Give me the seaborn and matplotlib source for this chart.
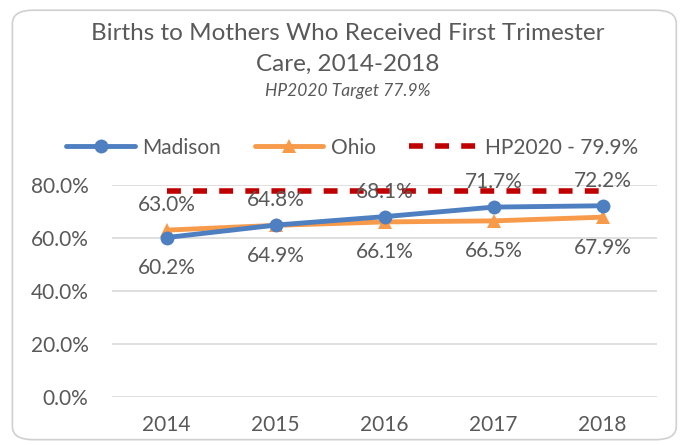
import seaborn as sns
import matplotlib.pyplot as plt
import pandas as pd
from matplotlib.patches import FancyBboxPatch
from matplotlib.lines import Line2D

years = ["2014", "2015", "2016", "2017", "2018"]
madison = [60.2, 64.9, 68.1, 71.7, 72.2]
ohio = [63.0, 64.8, 66.1, 66.5, 67.9]
hp2020 = [77.9, 77.9, 77.9, 77.9, 77.9]
madison_above = [False, False, True, True, True]
y_ticks = [0, 20, 40, 60, 80]

blue = "#4E7FC1"
orange = "#F79A4A"
red = "#C00000"
grey = "#595959"

sns.set_theme(style="white")
plt.rcParams["font.family"] = ["Lato", "DejaVu Sans"]

df = pd.DataFrame({"year": years, "Madison": madison, "Ohio": ohio, "HP2020": hp2020})

fig = plt.figure(figsize=(6.88, 4.45), dpi=100)
ax = fig.add_axes([0.163, 0.108, 0.792, 0.476])

sns.lineplot(data=df, x="year", y="HP2020", ax=ax, color=red, linewidth=4,
             linestyle=(0, (2.5, 2.2)), sort=False)
sns.lineplot(data=df, x="year", y="Ohio", ax=ax, color=orange, linewidth=3.5,
             marker="^", markersize=10, markeredgewidth=0, sort=False)
sns.lineplot(data=df, x="year", y="Madison", ax=ax, color=blue, linewidth=3.5,
             marker="o", markersize=10, markeredgewidth=0, sort=False)

# data labels
for i in range(len(years)):
    m_off = 18 if madison_above[i] else -22
    o_off = -22 if madison_above[i] else 18
    ax.annotate(f"{madison[i]:.1f}%", (i, madison[i]), xytext=(0, m_off),
                textcoords="offset points", ha="center", va="center",
                fontsize=15, color=grey, annotation_clip=False)
    ax.annotate(f"{ohio[i]:.1f}%", (i, ohio[i]), xytext=(0, o_off),
                textcoords="offset points", ha="center", va="center",
                fontsize=15, color=grey, annotation_clip=False)

ax.set_xlim(-0.5, 4.5)
ax.set_ylim(0, 80)
ax.set_yticks(y_ticks)
ax.set_yticklabels([f"{v:.1f}%" for v in y_ticks])
ax.yaxis.grid(True, color="#D9D9D9", linewidth=1.2)
ax.set_axisbelow(True)
for s in ax.spines.values():
    s.set_visible(False)
ax.tick_params(axis="both", labelsize=15, labelcolor=grey, length=0)
ax.tick_params(axis="x", pad=13)
ax.tick_params(axis="y", pad=17)
ax.set_xlabel("")
ax.set_ylabel("")

fig.text(0.505, 0.925, "Births to Mothers Who Received First Trimester",
         ha="center", va="center", fontsize=17.5, color=grey)
fig.text(0.505, 0.855, "Care, 2014-2018", ha="center", va="center",
         fontsize=17.5, color=grey)
fig.text(0.505, 0.795, "HP2020 Target 77.9%", ha="center", va="center",
         fontsize=12.5, color=grey, style="italic")

handles = [
    Line2D([], [], color=blue, linewidth=3.5, marker="o", markersize=10, markeredgewidth=0),
    Line2D([], [], color=orange, linewidth=3.5, marker="^", markersize=10, markeredgewidth=0),
    Line2D([], [], color=red, linewidth=4, linestyle=(0, (2.5, 2.2))),
]
leg = fig.legend(handles, ["Madison", "Ohio", "HP2020 - 79.9%"], loc="center",
                 bbox_to_anchor=(0.512, 0.668), ncol=3, frameon=False,
                 fontsize=15, handlelength=3.3, columnspacing=1.6, handletextpad=0.35)
for t in leg.get_texts():
    t.set_color(grey)

border = FancyBboxPatch((0.018, 0.012), 0.965, 0.965, transform=fig.transFigure,
                        boxstyle="round,pad=0,rounding_size=0.03",
                        facecolor="none", edgecolor="#D0D0D0", linewidth=1.2)
fig.patches.append(border)

fig.savefig("out.png", dpi=100)
